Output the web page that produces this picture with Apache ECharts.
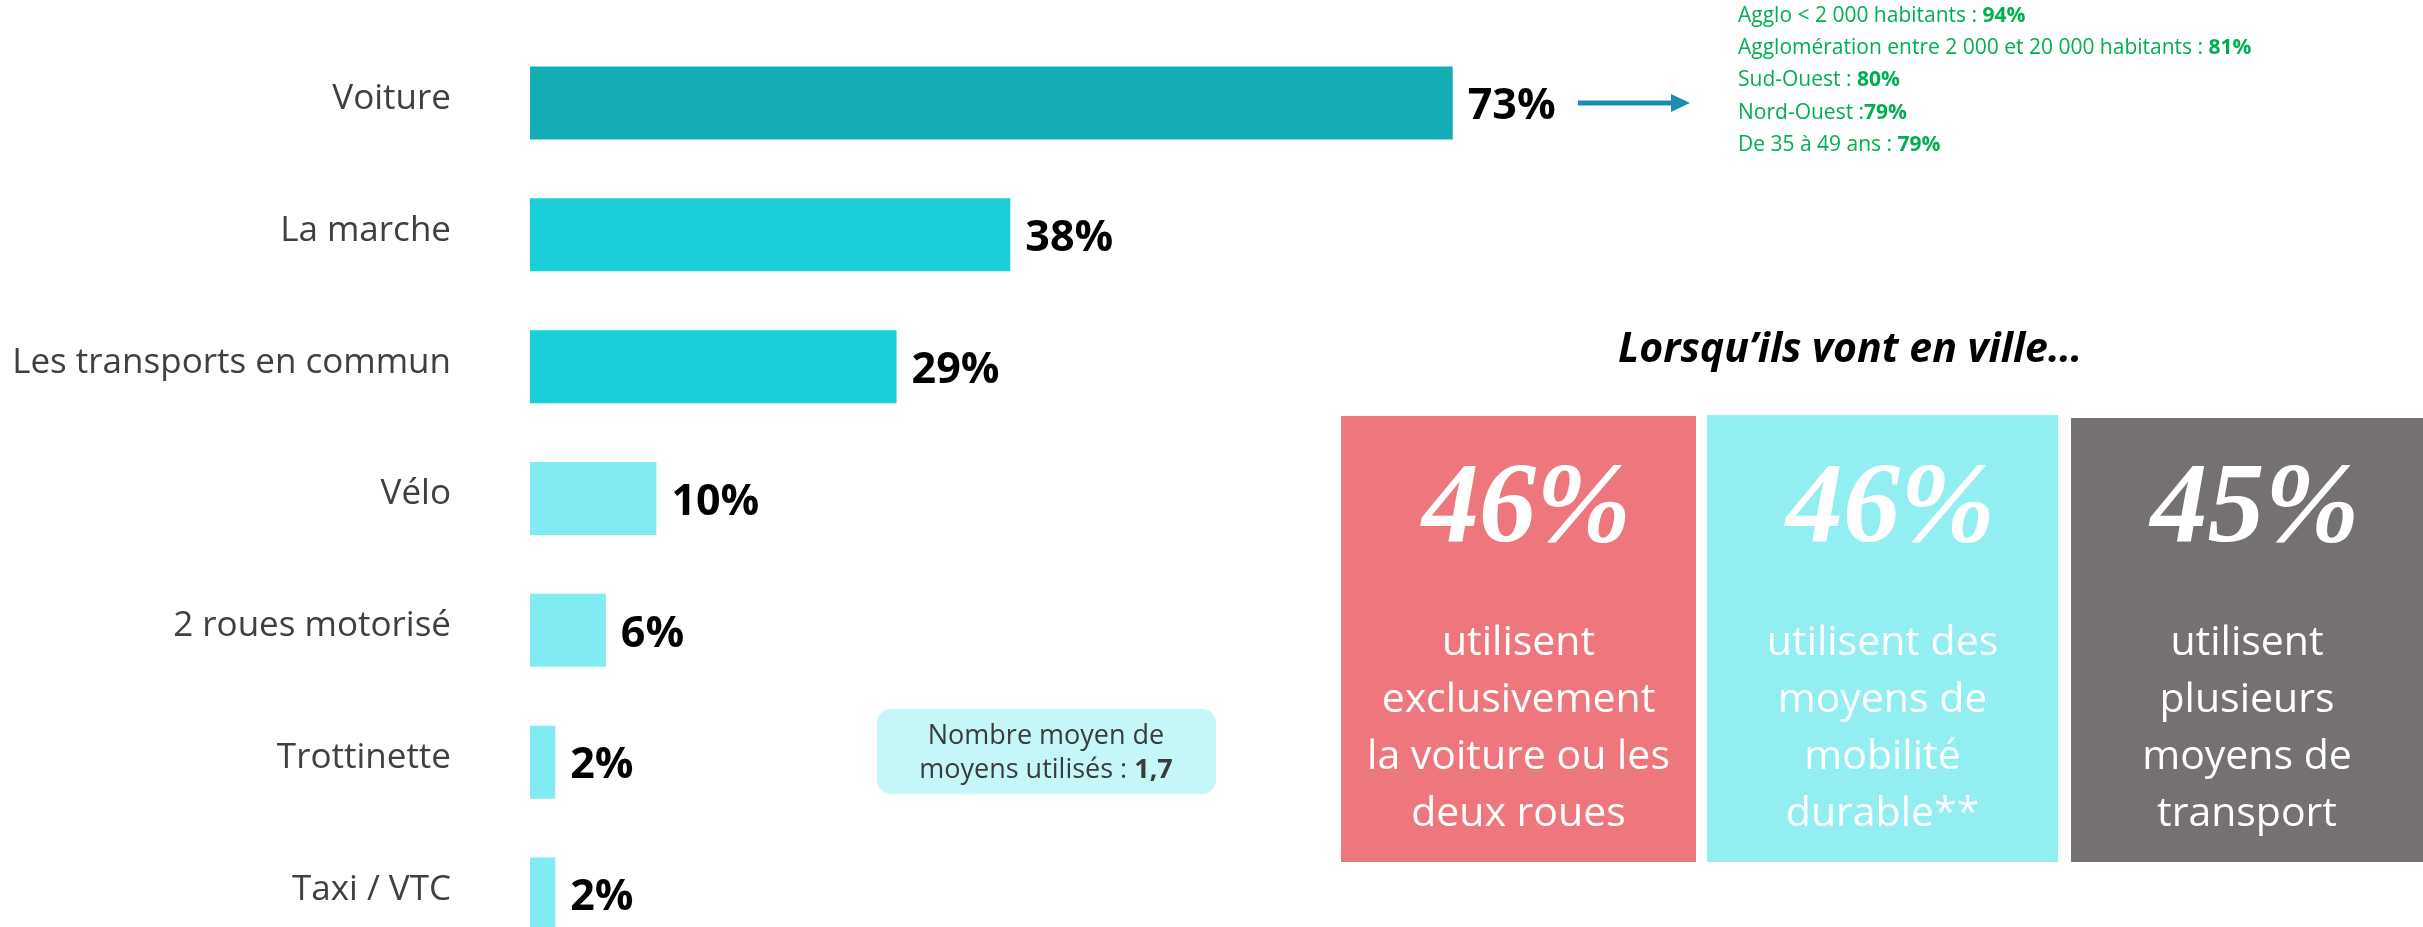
<!DOCTYPE html>
<html>
<head>
<meta charset="utf-8">
<script src="https://cdn.jsdelivr.net/npm/echarts@6/dist/echarts.min.js"></script>
<style>
  html, body { margin: 0; padding: 0; background: #fff; }
  #chart { width: 2423px; height: 927px; }
</style>
</head>
<body>
<div id="chart"></div>
<script>
// Main bar chart
const categories = ['Voiture', 'La marche', 'Les transports en commun', 'Vélo', '2 roues motorisé', 'Trottinette', 'Taxi / VTC'];
const values = [73, 38, 29, 10, 6, 2, 2];
const barColors = ['#14adb5', '#19cfd9', '#19cfd9', '#80ebf2', '#80ebf2', '#80ebf2', '#80ebf2'];

// Green detail for "Voiture"
const detailLabels = ['Agglo < 2 000 habitants : ', 'Agglomération entre 2 000 et 20 000 habitants : ', 'Sud-Ouest : ', 'Nord-Ouest :', 'De 35 à 49 ans : '];
const detailValues = ['94%', '81%', '80%', '79%', '79%'];

// "In town" panels
const cityTitle = 'Lorsqu’ils vont en ville…';
const cityValues = ['46%', '46%', '45%'];
const cityTexts = [
  ['utilisent', 'exclusivement', 'la voiture ou les', 'deux roues'],
  ['utilisent des', 'moyens de', 'mobilité', 'durable**'],
  ['utilisent', 'plusieurs', 'moyens de', 'transport']
];
const cityColors = ['#ee777d', '#93eef2', '#767171'];

// Average number of means
const averageLabel = ['Nombre moyen de', 'moyens utilisés : '];
const averageValue = '1,7';

const chart = echarts.init(document.getElementById('chart'));

const panels = [
  { x: 1341, y: 416, w: 355 },
  { x: 1707, y: 415, w: 351 },
  { x: 2071, y: 418, w: 352 }
];
const panelBottom = 862;

const graphics = [];

// arrow from the Voiture value to the detail block
graphics.push({
  type: 'line',
  shape: { x1: 1578, y1: 103, x2: 1674, y2: 103 },
  style: { stroke: '#1a8db3', lineWidth: 5 }
});
graphics.push({
  type: 'polygon',
  shape: { points: [[1671, 94], [1690, 103], [1671, 112]] },
  style: { fill: '#1a8db3' }
});

detailLabels.forEach((lab, i) => {
  graphics.push({
    type: 'text',
    x: 1738,
    y: 16 + i * 32.2,
    style: {
      text: '{a|' + lab + '}{b|' + detailValues[i] + '}',
      verticalAlign: 'middle',
      rich: {
        a: { fontFamily: 'Open Sans', fontSize: 21, fill: '#00b050' },
        b: { fontFamily: 'Open Sans', fontSize: 21, fontWeight: 'bold', fill: '#00b050' }
      }
    }
  });
});

graphics.push({
  type: 'text',
  x: 1850,
  y: 350,
  style: {
    text: cityTitle,
    font: 'italic bold 41px "Open Sans"',
    fill: '#000',
    align: 'center',
    verticalAlign: 'middle'
  }
});

panels.forEach((p, i) => {
  const cx = p.x + p.w / 2;
  graphics.push({
    type: 'rect',
    shape: { x: p.x, y: p.y, width: p.w, height: panelBottom - p.y },
    style: { fill: cityColors[i] }
  });
  graphics.push({
    type: 'text',
    x: cx + 8,
    y: 512,
    style: {
      text: cityValues[i],
      font: 'italic bold 114px "Liberation Serif"',
      fill: '#fff',
      align: 'center',
      verticalAlign: 'middle'
    }
  });
  graphics.push({
    type: 'text',
    x: cx,
    y: 729,
    style: {
      text: cityTexts[i].join('\n'),
      fontFamily: 'Open Sans',
      fontSize: 41,
      lineHeight: 57,
      fill: '#fff',
      align: 'center',
      verticalAlign: 'middle'
    }
  });
});

graphics.push({
  type: 'rect',
  shape: { x: 877, y: 709, width: 339, height: 85, r: 14 },
  style: { fill: '#c5f6f8' }
});
graphics.push({
  type: 'text',
  x: 1046,
  y: 753,
  style: {
    text: '{a|' + averageLabel[0] + '}\n{a|' + averageLabel[1] + '}{b|' + averageValue + '}',
    align: 'center',
    verticalAlign: 'middle',
    rich: {
      a: { fontFamily: 'Open Sans', fontSize: 27, lineHeight: 34, fill: '#3b3b3b' },
      b: { fontFamily: 'Open Sans', fontSize: 27, lineHeight: 34, fontWeight: 'bold', fill: '#3b3b3b' }
    }
  }
});

chart.setOption({
  animation: false,
  grid: { left: 530, top: 37, width: 1264, height: 923, outerBoundsMode: 'none' },
  xAxis: { type: 'value', min: 0, max: 100, show: false },
  yAxis: {
    type: 'category',
    data: categories,
    inverse: true,
    axisLine: { show: false },
    axisTick: { show: false },
    splitLine: { show: false },
    axisLabel: {
      margin: 79,
      formatter: v => '{c|' + v + '}',
      rich: {
        c: { fontFamily: 'Open Sans', fontSize: 35, color: '#404040', padding: [0, 0, 8, 0] }
      }
    }
  },
  series: [
    {
      type: 'bar',
      barWidth: 73,
      data: values.map((v, i) => ({ value: v, itemStyle: { color: barColors[i] } })),
      label: {
        show: true,
        position: 'right',
        distance: 15,
        offset: [0, 4],
        formatter: '{c}%',
        fontFamily: 'Open Sans',
        fontSize: 43,
        fontWeight: 'bold',
        color: '#000'
      }
    }
  ],
  graphic: graphics
});
</script>
</body>
</html>
